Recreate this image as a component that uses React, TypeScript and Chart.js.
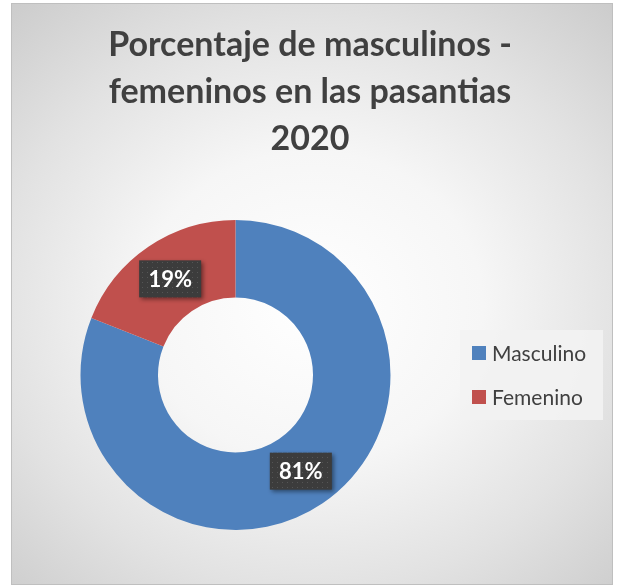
import React, { useEffect, useRef } from "react";
import { Chart, registerables } from "chart.js";

Chart.register(...registerables);

const titleLines = ["Porcentaje de masculinos -", "femeninos en las pasantias", "2020"];
const categories = ["Masculino", "Femenino"];
const values = [81, 19];
const valueLabels = ["81%", "19%"];
const colors = ["#4f81bd", "#c0504d"];

const FONT = "Lato, 'Open Sans', sans-serif";

function makePattern(ctx: CanvasRenderingContext2D) {
  const c = document.createElement("canvas");
  c.width = 5;
  c.height = 5;
  const p = c.getContext("2d")!;
  p.fillStyle = "#3c3c3c";
  p.fillRect(0, 0, 5, 5);
  p.fillStyle = "#555555";
  p.fillRect(2, 2, 1, 1);
  return ctx.createPattern(c, "repeat");
}

// Let the title span the whole canvas width (centre it on the page)
const titleSpanPlugin = {
  id: "titleSpan",
  afterLayout(chart: any) {
    const t = chart.titleBlock;
    if (t) {
      t.left = 0;
      t.right = chart.width;
      t.width = chart.width;
    }
  },
};

// Custom legend drawn to the right of the chart area
const legendPlugin = {
  id: "sideLegend",
  afterDraw(chart: any) {
    const ctx = chart.ctx;
    const ca = chart.chartArea;
    const cy = (ca.top + ca.bottom) / 2;
    const left = ca.right + 14;
    const boxW = 143;
    const boxH = 90;
    ctx.save();
    ctx.fillStyle = "rgba(242,242,242,0.92)";
    ctx.fillRect(left, cy - boxH / 2, boxW, boxH);
    const labels: string[] = chart.data.labels;
    const bg: string[] = chart.data.datasets[0].backgroundColor;
    const step = 44;
    const y0 = cy - step / 2;
    ctx.font = `21px ${FONT}`;
    ctx.textBaseline = "middle";
    ctx.textAlign = "left";
    labels.forEach((lab, i) => {
      const y = y0 + i * step;
      ctx.fillStyle = bg[i];
      ctx.fillRect(left + 12, y - 7, 14, 14);
      ctx.fillStyle = "#404040";
      ctx.fillText(lab, left + 32, y + 1);
    });
    ctx.restore();
  },
};

const labelPlugin = {
  id: "valueLabels",
  afterDatasetsDraw(chart: any) {
    const ctx = chart.ctx;
    const meta = chart.getDatasetMeta(0);
    const pat = makePattern(ctx);
    meta.data.forEach((el: any, i: number) => {
      const pos = el.tooltipPosition();
      const w = 62;
      const h = 37;
      ctx.save();
      ctx.shadowColor = "rgba(0,0,0,0.45)";
      ctx.shadowBlur = 4;
      ctx.shadowOffsetX = 2;
      ctx.shadowOffsetY = 2;
      ctx.fillStyle = pat || "#3c3c3c";
      ctx.fillRect(pos.x - w / 2, pos.y - h / 2, w, h);
      ctx.restore();
      ctx.save();
      ctx.fillStyle = "#ffffff";
      ctx.font = `bold 22px ${FONT}`;
      ctx.textAlign = "center";
      ctx.textBaseline = "middle";
      ctx.fillText(valueLabels[i], pos.x, pos.y + 1);
      ctx.restore();
    });
  },
};

export default function App() {
  const ref = useRef<HTMLCanvasElement>(null);
  useEffect(() => {
    document.body.style.margin = "0";
    const chart = new Chart(ref.current!, {
      type: "doughnut",
      data: {
        labels: categories,
        datasets: [
          {
            data: values,
            backgroundColor: colors,
            borderWidth: 0,
          },
        ],
      },
      options: {
        animation: false,
        responsive: false,
        cutout: "50%",
        layout: { padding: { left: 25, right: 174, top: 0, bottom: 56 } },
        plugins: {
          tooltip: { enabled: false },
          legend: { display: false },
          title: {
            display: true,
            text: titleLines,
            color: "#404040",
            font: { family: FONT, size: 34, weight: "bold", lineHeight: 47 / 34 },
            padding: { top: 22, bottom: 57 },
          },
        },
      },
      plugins: [titleSpanPlugin, legendPlugin, labelPlugin],
    });
    return () => chart.destroy();
  }, []);
  return (
    <div style={{ position: "absolute", left: 0, top: 0, width: 620, height: 586 }}>
      <div
        style={{
          position: "absolute",
          left: 11,
          top: 3,
          width: 600,
          height: 580,
          border: "1px solid #bfbfbf",
          background:
            "radial-gradient(ellipse 75% 70% at 50% 52%, #ffffff 0%, #f6f6f6 38%, #e2e2e2 70%, #cccccc 100%)",
        }}
      />
      <canvas ref={ref} width={620} height={586} style={{ position: "absolute", left: 0, top: 0 }} />
    </div>
  );
}
